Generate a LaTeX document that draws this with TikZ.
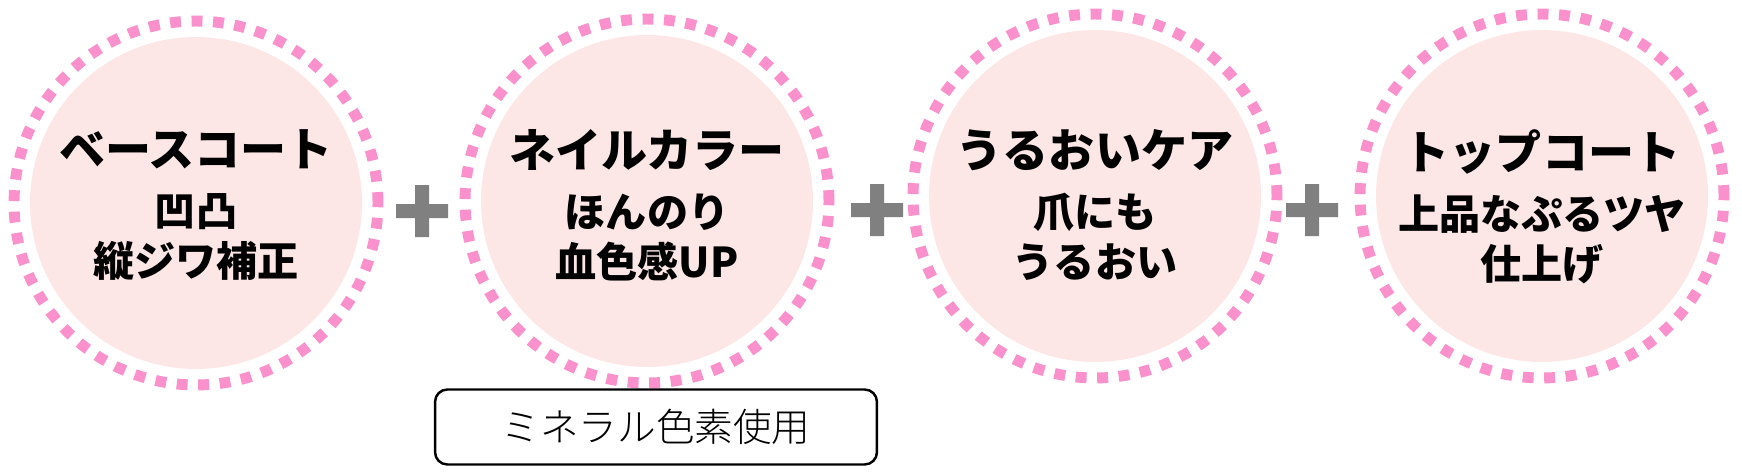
\documentclass[tikz,border=0pt]{standalone}
\usepackage{fontspec}
\newfontfamily\jpfont{Noto Sans CJK JP}
\newfontfamily\jplight{Noto Sans CJK JP Light}
\definecolor{ringpink}{RGB}{250,145,205}
\definecolor{discpink}{RGB}{253,230,230}
\definecolor{plusgray}{RGB}{128,128,128}
\newcommand\circtitle[1]{{\fontsize{26.2}{30}\selectfont #1}}

\begin{document}
\begin{tikzpicture}[
			x=0.02cm, y=-0.02cm,
			disc/.style={circle, fill=discpink, minimum size=6.64cm, inner sep=0pt},
			ring/.style={draw=ringpink, line width=6.2pt, dash pattern=on 6.2pt off 6.034pt},
			lbl/.style={align=center, inner sep=0pt, font=\jpfont\bfseries\fontsize{23.4}{28.4}\selectfont},
			note/.style={draw, line width=1.4pt, rounded corners=7pt, minimum width=8.84cm, minimum height=1.5cm, font=\jplight\fontsize{22}{26}\selectfont}
		]
		\useasboundingbox (0,0) rectangle (1742,471);

		\node[disc] (c1) at (196,203) {};
		\node[disc] (c2) at (647,201) {};
		\node[disc] (c3) at (1095,196) {};
		\node[disc] (c4) at (1542,196) {};

		\draw[ring] (c1.center) circle[radius=3.64cm];
		\draw[ring] (c2.center) circle[radius=3.64cm];
		\draw[ring] (c3.center) circle[radius=3.64cm];
		\draw[ring] (c4.center) circle[radius=3.64cm];

		\node[lbl] (t1) at (196,205) {\circtitle{ベースコート}\\[6pt]凹凸\\縦ジワ補正};
		\node[lbl] (t2) at (647,205) {\circtitle{ネイルカラー}\\[6pt]ほんのり\\血色感UP};
		\node[lbl] (t3) at (1095,205) {\circtitle{うるおいケア}\\[6pt]爪にも\\うるおい};
		\node[lbl] (t4) at (1542,207) {\circtitle{トップコート}\\[6pt]上品なぷるツヤ\\仕上げ};

		% plus signs
		\coordinate (p1) at (422,211);
		\coordinate (p2) at (877,210);
		\coordinate (p3) at (1312,210);
		\fill[plusgray] (p1) ++(-26,-7) rectangle ++(52,14) (p1) ++(-7,-26) rectangle ++(14,52);
		\fill[plusgray] (p2) ++(-26,-7) rectangle ++(52,14) (p2) ++(-7,-26) rectangle ++(14,52);
		\fill[plusgray] (p3) ++(-26,-7) rectangle ++(52,14) (p3) ++(-7,-26) rectangle ++(14,52);

		\node[note] (n1) at (656,427) {ミネラル色素使用};
	\end{tikzpicture}
\end{document}
